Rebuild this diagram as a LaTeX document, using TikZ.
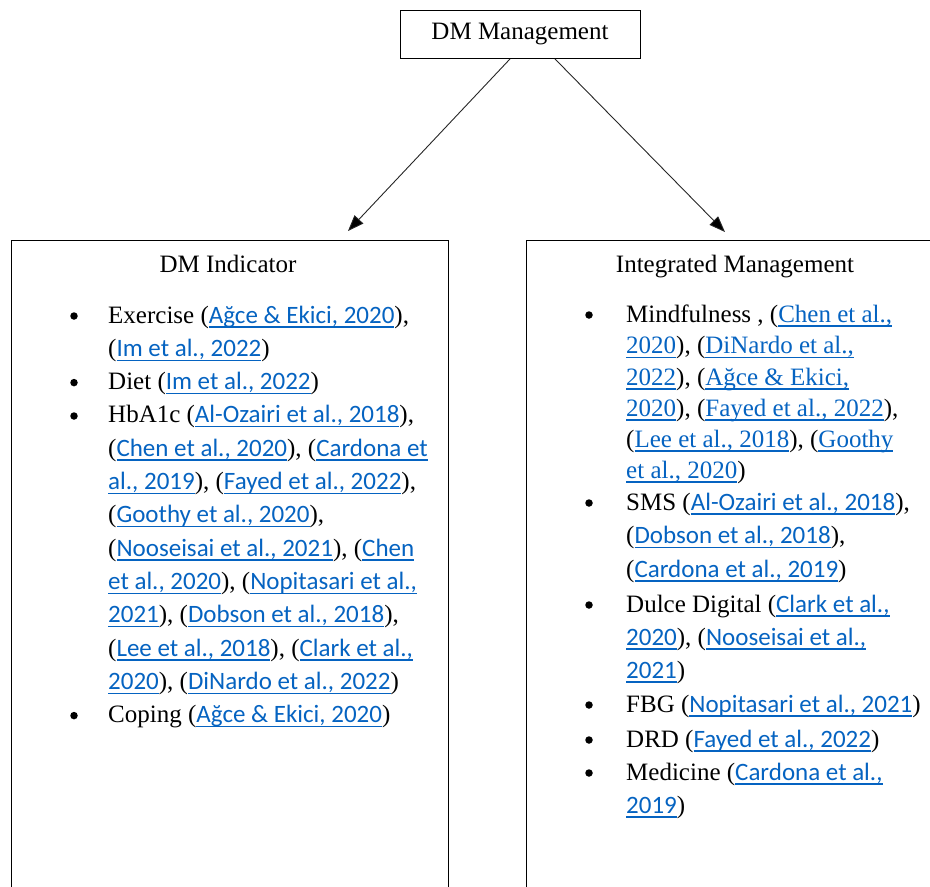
\documentclass[tikz,border=0pt]{standalone}
\usepackage{fontspec}
\setmainfont{Liberation Serif}
\newfontfamily\citefont{Carlito}
\usetikzlibrary{arrows.meta,calc}
\definecolor{linkblue}{HTML}{0563C1}
\newsavebox\ulbox
\newcommand\uln[1]{\sbox\ulbox{#1}\rlap{\vrule height -3.2pt depth 4.5pt width \wd\ulbox}\usebox\ulbox}
\newcommand\cs[1]{{\color{linkblue}\citefont\uln{#1}}}
\newcommand\cse[1]{{\color{linkblue}\uln{#1}}}
\tikzset{
  txt/.style={anchor=base west, inner sep=0pt, font=\fontsize{25}{30}\selectfont},
  ttl/.style={anchor=base, inner sep=0pt, font=\fontsize{25}{30}\selectfont},
  bul/.style={circle, fill=black, inner sep=0pt, minimum size=7.5pt},
  boxframe/.style={draw=black, line width=0.9pt, anchor=north west, inner sep=0pt},
  arr/.style={draw=black!85, line width=0.9pt, -{Triangle[length=16pt,width=12pt,fill=black]}}
}
\begin{document}
\begin{tikzpicture}[x=1pt,y=-1pt]
\useasboundingbox (0,0) rectangle (930,887);
\clip (0,0) rectangle (930,887);
% top node
\node[draw=black, line width=0.9pt, minimum width=240pt, minimum height=48pt, inner sep=0pt, font=\fontsize{25}{30}\selectfont] (top) at (520,34.5) {DM Management};
% boxes
\node[boxframe, minimum width=437pt, minimum height=680pt] (ind) at (11,240) {};
\node[boxframe, minimum width=440pt, minimum height=680pt] (integ) at (526,240) {};
% arrow tips
\coordinate (tipL) at (348,231);
\coordinate (tipR) at (725,232);
\draw[arr] ($(top.south)+(-10,0)$) -- (tipL);
\draw[arr] ($(top.south)+(35,0)$) -- (tipR);
% titles
\node[ttl] (indt) at (228,272) {DM Indicator};
\node[ttl] (integt) at (735,272) {Integrated Management};
% left column
\node[bul] (lb1) at (74,316) {};
\node[bul] (lb2) at (74,382.6) {};
\node[bul] (lb3) at (74,416) {};
\node[bul] (lb4) at (74,715.6) {};
\node[txt] (l0) at (108,323) {Exercise (\cs{Ağce \& Ekici, 2020}),};
\node[txt] (l1) at (108,356.3) {(\cs{Im et al., 2022})};
\node[txt] (l2) at (108,389.6) {Diet (\cs{Im et al., 2022})};
\node[txt] (l3) at (108,422.9) {HbA1c (\cs{Al-Ozairi et al., 2018}),};
\node[txt] (l4) at (108,456.2) {(\cs{Chen et al., 2020}), (\cs{Cardona et}};
\node[txt] (l5) at (108,489.5) {\cs{al., 2019}), (\cs{Fayed et al., 2022}),};
\node[txt] (l6) at (108,522.8) {(\cs{Goothy et al., 2020}),};
\node[txt] (l7) at (108,556.1) {(\cs{Nooseisai et al., 2021}), (\cs{Chen}};
\node[txt] (l8) at (108,589.4) {\cs{et al., 2020}), (\cs{Nopitasari et al.,}};
\node[txt] (l9) at (108,622.7) {\cs{2021}), (\cs{Dobson et al., 2018}),};
\node[txt] (l10) at (108,656) {(\cs{Lee et al., 2018}), (\cs{Clark et al.,}};
\node[txt] (l11) at (108,689.3) {\cs{2020}), (\cs{DiNardo et al., 2022})};
\node[txt] (l12) at (108,722.6) {Coping (\cs{Ağce \& Ekici, 2020})};
% right column
\node[bul] (rb1) at (589,315) {};
\node[bul] (rb2) at (589,503) {};
\node[bul] (rb3) at (589,605) {};
\node[bul] (rb4) at (589,705) {};
\node[bul] (rb5) at (589,740) {};
\node[bul] (rb6) at (589,773) {};
\node[txt] (r0) at (626,322) {Mindfulness , (\cse{Chen et al.,}};
\node[txt] (r1) at (626,353.5) {\cse{2020}), (\cse{DiNardo et al.,}};
\node[txt] (r2) at (626,385) {\cse{2022}), (\cse{Ağce \& Ekici,}};
\node[txt] (r3) at (626,416) {\cse{2020}), (\cse{Fayed et al., 2022}),};
\node[txt] (r4) at (626,447) {(\cse{Lee et al., 2018}), (\cse{Goothy}};
\node[txt] (r5) at (626,478) {\cse{et al., 2020})};
\node[txt] (r6) at (626,510) {SMS (\cs{Al-Ozairi et al., 2018}),};
\node[txt] (r7) at (626,543.5) {(\cs{Dobson et al., 2018}),};
\node[txt] (r8) at (626,577) {(\cs{Cardona et al., 2019})};
\node[txt] (r9) at (626,612) {Dulce Digital (\cs{Clark et al.,}};
\node[txt] (r10) at (626,645) {\cs{2020}), (\cs{Nooseisai et al.,}};
\node[txt] (r11) at (626,678) {\cs{2021})};
\node[txt] (r12) at (626,712) {FBG (\cs{Nopitasari et al., 2021})};
\node[txt] (r13) at (626,747) {DRD (\cs{Fayed et al., 2022})};
\node[txt] (r14) at (626,780) {Medicine (\cs{Cardona et al.,}};
\node[txt] (r15) at (626,813) {\cs{2019})};
\end{tikzpicture}
\end{document}
